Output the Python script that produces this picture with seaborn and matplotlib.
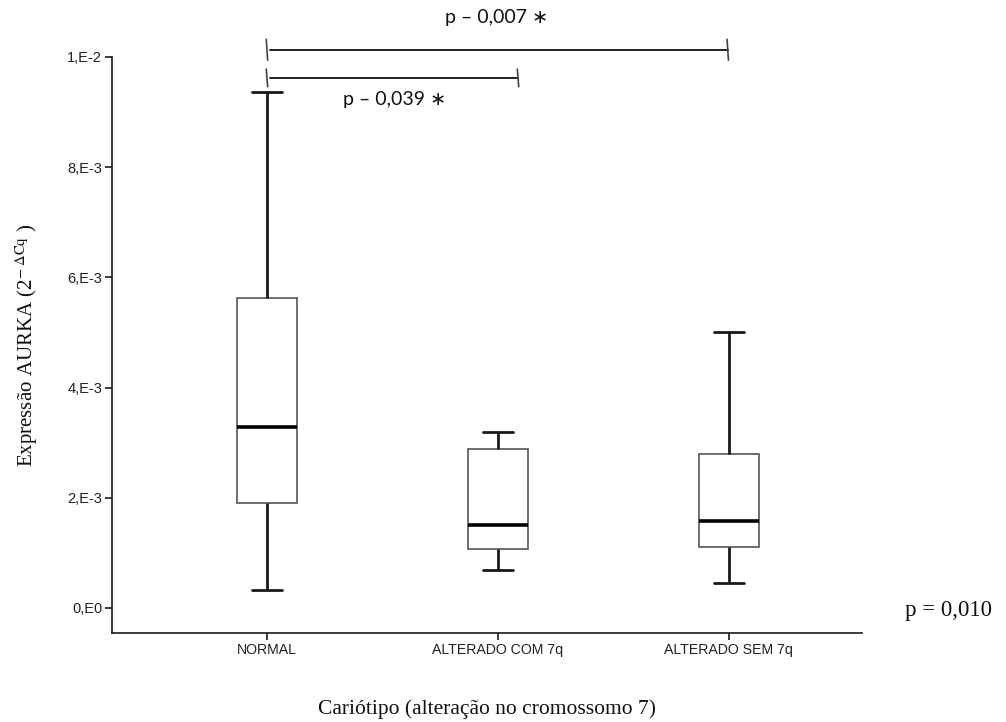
import numpy as np
import pandas as pd
import matplotlib
matplotlib.use("Agg")
import matplotlib.pyplot as plt
import seaborn as sns

# Five-number summaries (min, Q1, median, Q3, max) of AURKA expression per karyotype group
groups = ["NORMAL", "ALTERADO COM 7q", "ALTERADO SEM 7q"]
normal = [0.00033, 0.00190, 0.00329, 0.00563, 0.00936]
com_7q = [0.00069, 0.00107, 0.00150, 0.00288, 0.00320]
sem_7q = [0.00045, 0.00110, 0.00157, 0.00280, 0.00500]

ytick_values = [0.0, 0.002, 0.004, 0.006, 0.008, 0.010]
ytick_labels = ["0,E0", "2,E-3", "4,E-3", "6,E-3", "8,E-3", "1,E-2"]

# Pairwise comparisons: (group a, group b, p-value label)
pairs = [(0, 1, "p – 0,039 ∗"), (0, 2, "p – 0,007 ∗")]
global_p = "p = 0,010"

df = pd.DataFrame({
    "grupo": np.repeat(groups, 5),
    "expr": normal + com_7q + sem_7q,
})

sns.set_style("ticks")
plt.rcParams["mathtext.fontset"] = "stix"

fig = plt.figure(figsize=(10.06, 7.22), dpi=100)
ax = fig.add_axes([0.1113, 0.1233, 0.7455, 0.7978])

sns.boxplot(
    data=df, x="grupo", y="expr", order=groups, ax=ax,
    whis=(0, 100), width=0.26, color="white", linecolor="#1a1a1a",
    boxprops=dict(linewidth=1.2, edgecolor="#555555", facecolor="white"),
    whiskerprops=dict(linewidth=2.0, color="#1a1a1a"),
    capprops=dict(linewidth=2.0, color="#1a1a1a"),
    medianprops=dict(linewidth=2.6, color="#000000"),
)

ax.set_xlim(-0.671, 2.576)
ax.set_ylim(-0.000454, 0.010)
ax.set_yticks(ytick_values)
ax.set_yticklabels(ytick_labels)
sns.despine(ax=ax)
for side in ("left", "bottom"):
    ax.spines[side].set_linewidth(1.2)
    ax.spines[side].set_color("#1a1a1a")
ax.tick_params(axis="both", length=5, width=1.2, color="#1a1a1a", pad=2)

tick_font = ["Liberation Sans", "DejaVu Sans"]
for lab in ax.get_yticklabels():
    lab.set_family(tick_font)
    lab.set_fontsize(10.5)
    lab.set_color("#222222")
for lab in ax.get_xticklabels():
    lab.set_family(tick_font)
    lab.set_fontsize(10.2)
    lab.set_color("#222222")

serif = ["Liberation Serif", "DejaVu Serif"]
ax.set_xlabel("Cariótipo (alteração no cromossomo 7)", family=serif,
              fontsize=15.5, labelpad=31, color="#111111")
ax.set_ylabel(r"Expressão AURKA (2$^{-\ \Delta\mathrm{Cq}}$ )", family=serif,
              fontsize=15, labelpad=20, color="#111111")

# Significance brackets drawn above the plot area
p_font = ["Lato", "DejaVu Sans"]
bracket_y = [0.00962, 0.01013]
tick_h = [0.00016, 0.00019]
text_y = [0.00922, 0.01071]
text_x = [0.555, 0.995]
right_end = [1.087, 1.995]
for i, (a, b, label) in enumerate(pairs):
    y = bracket_y[i]
    x1 = right_end[i]
    ax.plot([a + 0.012, x1], [y, y], color="#111111", lw=1.3, clip_on=False)
    for xx in (a, x1):
        ax.plot([xx - 0.003, xx + 0.003], [y + tick_h[i], y - tick_h[i]],
                color="#444444", lw=1.2, clip_on=False)
    ax.text(text_x[i], text_y[i], label, family=p_font, fontsize=14,
            color="#111111", ha="center", va="center", clip_on=False)

fig.text(0.9, 0.155, global_p, family=serif, fontsize=16.5,
         color="#111111", ha="left", va="center")

fig.savefig("out.png", dpi=100)
